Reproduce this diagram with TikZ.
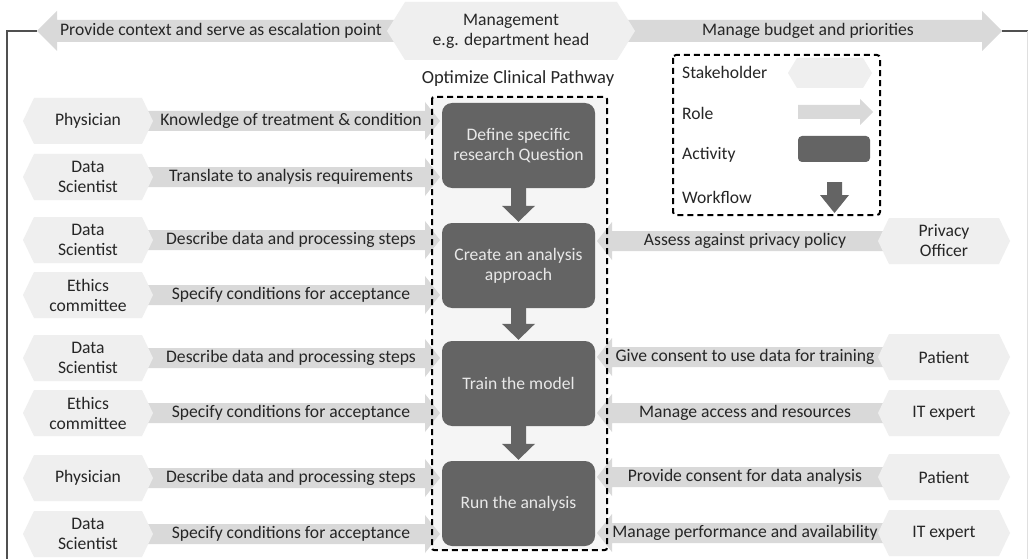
\documentclass[tikz,border=0pt]{standalone}
\usepackage{fontspec}
\setmainfont{Carlito}
\usetikzlibrary{calc}
\definecolor{stkc}{HTML}{EFEFEF}
\definecolor{rolec}{HTML}{D9D9D9}
\definecolor{actc}{HTML}{646464}
\definecolor{txtc}{HTML}{262626}
\definecolor{acttxt}{HTML}{E8E8E8}
\definecolor{pathbg}{HTML}{F5F5F5}
\definecolor{framec}{HTML}{505050}
\tikzset{
  lbl/.style={text=txtc, font=\fontsize{17.6}{20}\selectfont, align=center, inner sep=0pt},
  act/.style={fill=actc, rounded corners=10pt, minimum width=153pt, minimum height=85pt,
     text=acttxt, font=\fontsize{17.6}{20}\selectfont, align=center, inner sep=0pt},
  dashbox/.style={draw=black, line width=2pt, dash pattern=on 6pt off 4pt},
}
% hexagon stakeholder: [inset]{name}{cx}{cy}{halfw}{halfh}{text}
\newcommand\stakehex[7][11]{%
  \fill[stkc] ({#3-#5},{#4}) -- ({#3-#5+#1},{#4-#6}) -- ({#3+#5-#1},{#4-#6}) -- ({#3+#5},{#4})
     -- ({#3+#5-#1},{#4+#6}) -- ({#3-#5+#1},{#4+#6}) -- cycle;
  \node[lbl] (#2) at (#3,#4) {#7};}
% role arrow: {name}{xtail}{xtip}{y}{textx}{text}
\newcommand\rolearrow[6]{%
  \pgfmathsetmacro\myhb{#3>#2 ? #3-15 : #3+15}%
  \fill[rolec] (#2,{#4-10}) -- (\myhb,{#4-10}) -- (\myhb,{#4-19}) -- (#3,#4)
     -- (\myhb,{#4+19}) -- (\myhb,{#4+10}) -- (#2,{#4+10}) -- cycle;
  \node[lbl] (#1) at (#5,#4) {#6};}
% workflow arrow between activity nodes
\newcommand\wfarrow[2]{%
  \fill[actc] let \p1=(#1.south), \p2=(#2.north) in
    (\x1-7.5pt,\y1+1pt) -- (\x1+7.5pt,\y1+1pt) -- (\x1+7.5pt,\y2+17pt) -- (\x1+16.5pt,\y2+17pt)
    -- (\x1,\y2+1pt) -- (\x1-16.5pt,\y2+17pt) -- (\x1-7.5pt,\y2+17pt) -- cycle;}
\begin{document}
\begin{tikzpicture}[x=1pt,y=-1pt]
\useasboundingbox (0,0) rectangle (1028,559);
\fill[white] (0,0) rectangle (1028,559);

% ---- top row
\coordinate (ltip) at (37,31);
\coordinate (rtip) at (1002,31);
\fill[rolec] (430,20) -- (57,20) -- (57,11) -- (ltip) -- (57,51) -- (57,42) -- (430,42) -- cycle;
\fill[rolec] (600,20) -- (982,20) -- (982,11) -- (rtip) -- (982,51) -- (982,42) -- (600,42) -- cycle;
\node[lbl] (ctx) at (221,31) {Provide context and serve as escalation point};
\node[lbl] (bud) at (808,31) {Manage budget and priorities};
\stakehex[18]{mgmt}{511}{31}{124}{29}{Management\\e.g. department head}
\draw[framec, line width=2pt] (ltip) -- (7,31) -- (7,560);
\draw[framec, line width=2pt] (rtip) -- (1029,31);
\draw[gray!25, line width=1pt] (1027.5,31) -- (1027.5,559);

% ---- pathway box
\node[lbl, font=\fontsize{18.5}{20}\selectfont] (pathtitle) at (518,79) {Optimize Clinical Pathway};
\fill[pathbg] (432,97) rectangle (607,550);

% ---- left roles
\rolearrow{l1}{140}{440}{121}{291}{Knowledge of treatment \& condition}
\rolearrow{l2}{140}{440}{177}{291}{Translate to analysis requirements}
\rolearrow{l3}{140}{440}{240}{291}{Describe data and processing steps}
\rolearrow{l4}{140}{440}{295}{291}{Specify conditions for acceptance}
\rolearrow{l5}{140}{440}{358}{291}{Describe data and processing steps}
\rolearrow{l6}{140}{440}{413}{291}{Specify conditions for acceptance}
\rolearrow{l7}{140}{440}{478}{291}{Describe data and processing steps}
\rolearrow{l8}{140}{440}{534}{291}{Specify conditions for acceptance}

% ---- right roles
\rolearrow{r1}{890}{597}{241}{745}{Assess against privacy policy}
\rolearrow{r2}{890}{597}{357}{745}{Give consent to use data for training}
\rolearrow{r3}{890}{597}{413}{745}{Manage access and resources}
\rolearrow{r4}{890}{597}{477}{745}{Provide consent for data analysis}
\rolearrow{r5}{890}{597}{533}{745}{Manage performance and availability}

% ---- left stakeholders
\stakehex{s1}{88}{121}{65}{23}{Physician}
\stakehex{s2}{88}{177}{65}{23}{Data\\Scientist}
\stakehex{s3}{88}{240}{65}{23}{Data\\Scientist}
\stakehex{s4}{88}{295}{65}{23}{Ethics\\committee}
\stakehex{s5}{88}{358}{65}{23}{Data\\Scientist}
\stakehex{s6}{88}{413}{65}{23}{Ethics\\committee}
\stakehex{s7}{88}{478}{65}{23}{Physician}
\stakehex{s8}{88}{534}{65}{23}{Data\\Scientist}

% ---- right stakeholders
\stakehex{t1}{944}{241}{66}{23}{Privacy\\Officer}
\stakehex{t2}{944}{357}{66}{23}{Patient}
\stakehex{t3}{944}{413}{66}{23}{IT expert}
\stakehex{t4}{944}{477}{66}{23}{Patient}
\stakehex{t5}{944}{533}{66}{23}{IT expert}

% ---- pathway border and activities
\draw[dashbox, rounded corners=2pt] (432,97) rectangle (607,550);
\node[act] (a1) at (518.5,145.5) {Define specific\\research Question};
\node[act] (a2) at (518.5,265.5) {Create an analysis\\approach};
\node[act] (a3) at (518.5,383.5) {Train the model};
\node[act] (a4) at (518.5,503.5) {Run the analysis};
\wfarrow{a1}{a2}
\wfarrow{a2}{a3}
\wfarrow{a3}{a4}

% ---- legend
\draw[dashbox, rounded corners=3pt] (673,55) rectangle (880,215);
\node[lbl, anchor=west] (lg1) at (682,72) {Stakeholder};
\node[lbl, anchor=west] (lg2) at (682,113) {Role};
\node[lbl, anchor=west] (lg3) at (682,155) {Activity};
\node[lbl, anchor=west] (lg4) at (682,197) {Workflow};
\stakehex[9]{lgs}{830}{73}{42}{15}{}
\fill[rolec] (798,105) -- (860,105) -- (860,99) -- (873,112) -- (860,125) -- (860,119) -- (798,119) -- cycle;
\node[fill=actc, rounded corners=4pt, minimum width=72pt, minimum height=26pt, inner sep=0pt] (lga) at (834,149) {};
\fill[actc] (827,182) -- (842,182) -- (842,195) -- (849,195) -- (834.5,213) -- (820,195) -- (827,195) -- cycle;
\end{tikzpicture}
\end{document}
